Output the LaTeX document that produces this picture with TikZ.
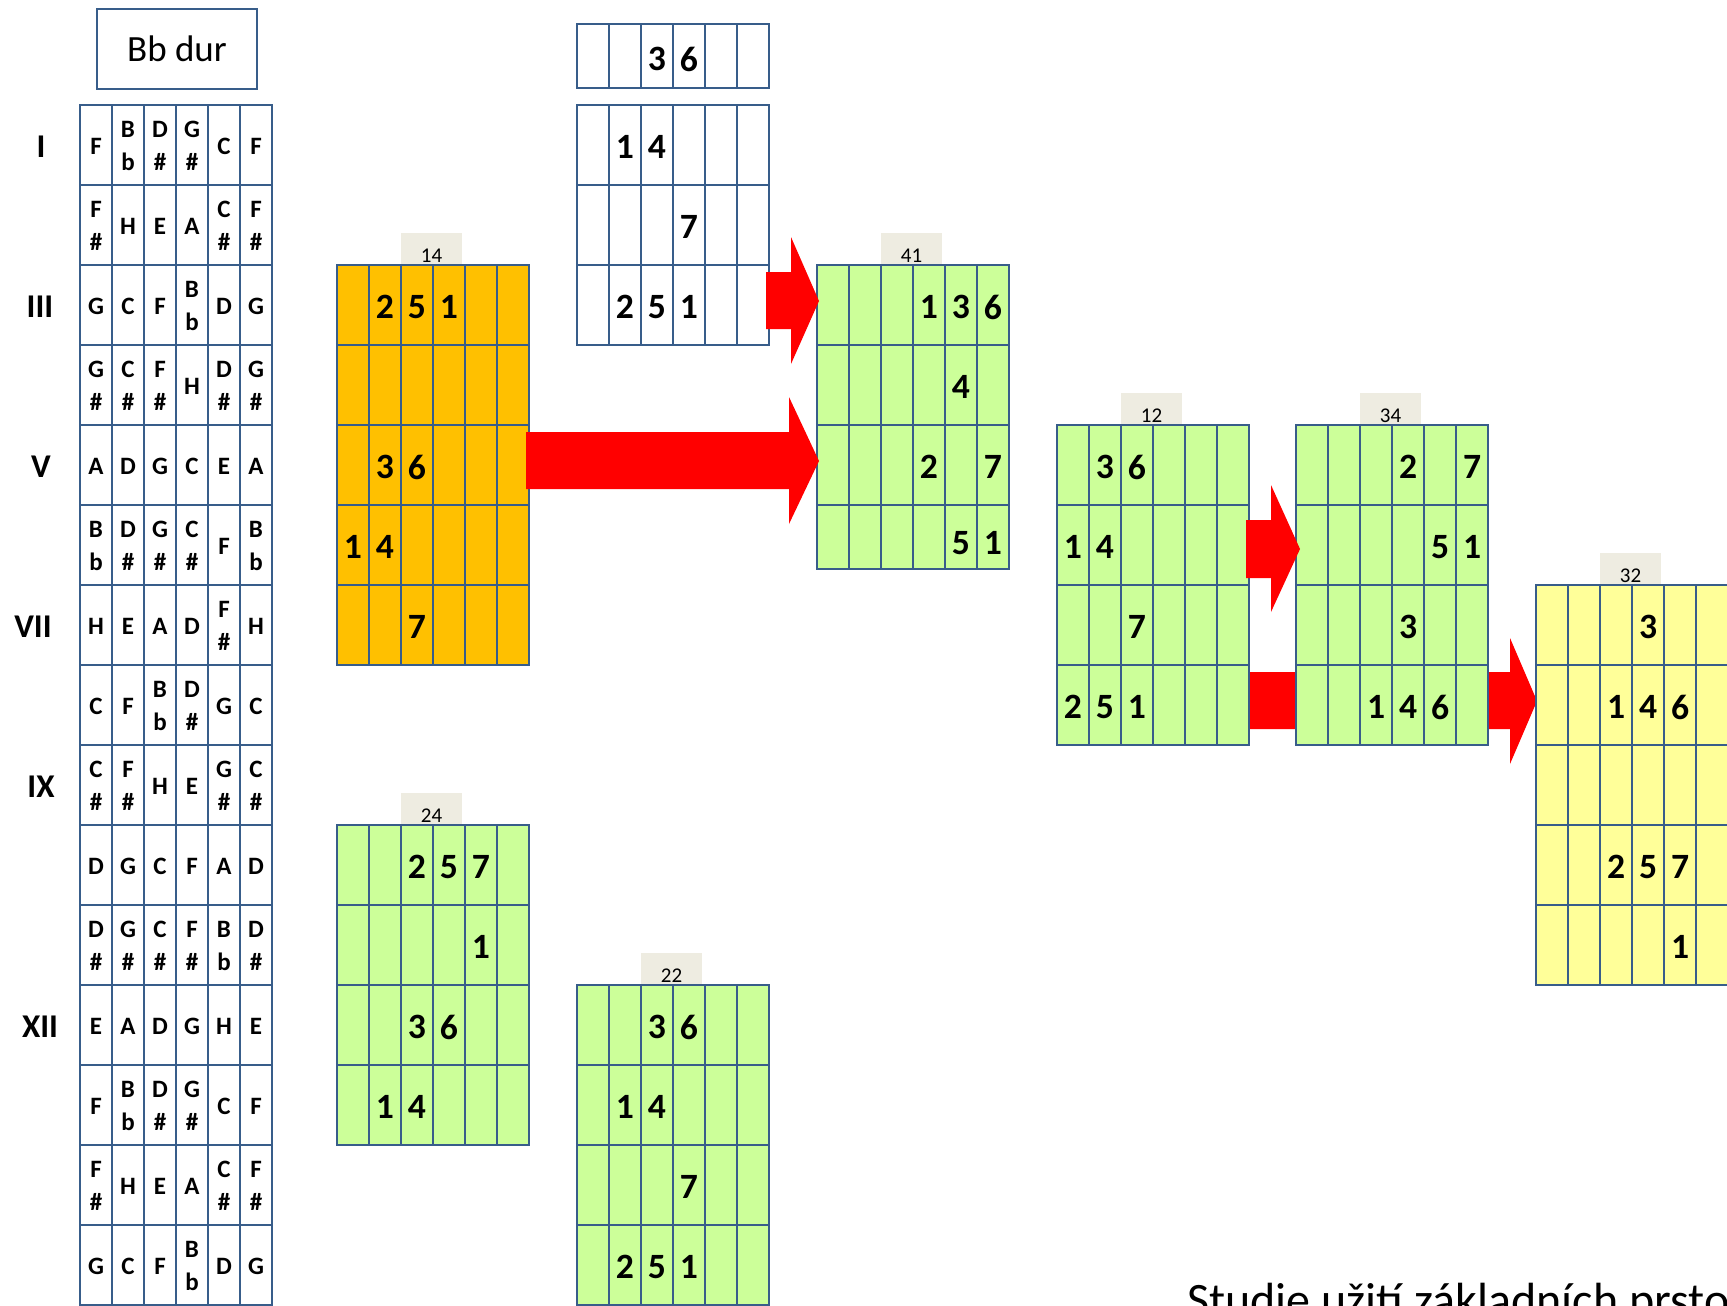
\documentclass[tikz,border=0pt]{standalone}
\usepackage{fontspec}
\setmainfont{Carlito}
\definecolor{gline}{RGB}{56,93,138}
\definecolor{gorange}{RGB}{255,192,0}
\definecolor{ggreen}{RGB}{204,255,153}
\definecolor{gyellow}{RGB}{255,255,153}
\definecolor{gtab}{RGB}{238,236,225}
\definecolor{gred}{RGB}{255,0,0}
% grid at local origin: #1 bottom, #2 list of row lines, #3 fill
\newcommand\fgrid[3]{%
  \fill[#3] (0,0) rectangle (192,#1);
  \foreach \i in {0,...,6} \draw[gridline] (32*\i,0) -- (32*\i,#1);
  \foreach \yy in {#2} \draw[gridline] (0,\yy) -- (192,\yy);
}
\newcommand\tabl[1]{%
  \fill[gtab] (64,-32) rectangle (125,0);
  \node[tablabel] (\gn-tab) at (94.5,-3) {#1};
}
\newcommand\cn[3]{\node[num] (\gn-#1-#2) at (32*#1-16,80*#2-40) {#3};}
\newcommand\frow[7]{%
  \node[note] (fb-#1-1) at (16,80*#1-40) {#2};
  \node[note] (fb-#1-2) at (48,80*#1-40) {#3};
  \node[note] (fb-#1-3) at (80,80*#1-40) {#4};
  \node[note] (fb-#1-4) at (112,80*#1-40) {#5};
  \node[note] (fb-#1-5) at (144,80*#1-40) {#6};
  \node[note] (fb-#1-6) at (176,80*#1-40) {#7};
}
\begin{document}
\begin{tikzpicture}[x=0.5pt,y=-0.5pt,
  gridline/.style={draw=gline,line width=1.45pt,line cap=rect},
  num/.style={font=\fontsize{17.8}{20}\selectfont\bfseries,inner sep=0pt,yshift=-1pt},
  note/.style={font=\fontsize{12.5}{16.5}\selectfont\bfseries,align=center,inner sep=0pt,yshift=-0.6pt},
  roman/.style={font=\fontsize{16.6}{20}\selectfont\bfseries,inner sep=0pt,yshift=-0.8pt},
  tablabel/.style={font=\fontsize{10.5}{12}\selectfont,anchor=base,inner sep=0pt},
  redarrow/.style={fill=gred,draw=none}]
\useasboundingbox (0,0) rectangle (1727,1305);
\clip (0,0) rectangle (1727,1305);

% title box
\node[draw=gline,line width=1.45pt,minimum width=80pt,minimum height=40pt,
  inner sep=0pt,font=\fontsize{18.5}{22}\selectfont] (title) at (177,49) {Bb dur};

% roman numerals
\node[roman] (rI) at (41,145) {I};
\node[roman] (rIII) at (40,305) {III};
\node[roman] (rV) at (41,465) {V};
\node[roman] (rVII) at (33,625) {VII};
\node[roman] (rIX) at (41,785) {IX};
\node[roman] (rXII) at (40,1025) {XII};

% fretboard
\begin{scope}[shift={(80,105)}]
\fgrid{1200}{0,80,...,1200}{white}
\frow{1}{F}{B\\b}{D\\\#}{G\\\#}{C}{F}
\frow{2}{F\\\#}{H}{E}{A}{C\\\#}{F\\\#}
\frow{3}{G}{C}{F}{B\\b}{D}{G}
\frow{4}{G\\\#}{C\\\#}{F\\\#}{H}{D\\\#}{G\\\#}
\frow{5}{A}{D}{G}{C}{E}{A}
\frow{6}{B\\b}{D\\\#}{G\\\#}{C\\\#}{F}{B\\b}
\frow{7}{H}{E}{A}{D}{F\\\#}{H}
\frow{8}{C}{F}{B\\b}{D\\\#}{G}{C}
\frow{9}{C\\\#}{F\\\#}{H}{E}{G\\\#}{C\\\#}
\frow{10}{D}{G}{C}{F}{A}{D}
\frow{11}{D\\\#}{G\\\#}{C\\\#}{F\\\#}{B\\b}{D\\\#}
\frow{12}{E}{A}{D}{G}{H}{E}
\frow{13}{F}{B\\b}{D\\\#}{G\\\#}{C}{F}
\frow{14}{F\\\#}{H}{E}{A}{C\\\#}{F\\\#}
\frow{15}{G}{C}{F}{B\\b}{D}{G}
\end{scope}

% lower arrow 12 -> 32 (behind grids)
\fill[redarrow] (1249,672) -- (1510,672) -- (1510,638) -- (1537,701)
  -- (1510,764) -- (1510,729) -- (1249,729) -- cycle;

% white top single row
\begin{scope}[shift={(577,24)}]
\def\gn{wa}
\fgrid{64}{0,64}{white}
\node[num] (wa-3) at (80,33) {3};
\node[num] (wa-4) at (112,33) {6};
\end{scope}

% white three rows
\begin{scope}[shift={(577,105)}]
\def\gn{wb}
\fgrid{240}{0,80,160,240}{white}
\cn{2}{1}{1}\cn{3}{1}{4}
\cn{4}{2}{7}
\cn{2}{3}{2}\cn{3}{3}{5}\cn{4}{3}{1}
\end{scope}

% orange 14
\begin{scope}[shift={(337,265)}]
\def\gn{g14}
\tabl{14}
\fgrid{400}{0,80,...,400}{gorange}
\cn{2}{1}{2}\cn{3}{1}{5}\cn{4}{1}{1}
\cn{2}{3}{3}\cn{3}{3}{6}
\cn{1}{4}{1}\cn{2}{4}{4}
\cn{3}{5}{7}
\end{scope}

% green 41
\begin{scope}[shift={(817,265)}]
\def\gn{g41}
\tabl{41}
\fgrid{304}{0,80,160,240,304}{ggreen}
\cn{4}{1}{1}\cn{5}{1}{3}\cn{6}{1}{6}
\cn{5}{2}{4}
\cn{4}{3}{2}\cn{6}{3}{7}
\node[num] (g41-5-4) at (144,276) {5};
\node[num] (g41-6-4) at (176,276) {1};
\end{scope}

% green 12
\begin{scope}[shift={(1057,425)}]
\def\gn{g12}
\tabl{12}
\fgrid{320}{0,80,...,320}{ggreen}
\cn{2}{1}{3}\cn{3}{1}{6}
\cn{1}{2}{1}\cn{2}{2}{4}
\cn{3}{3}{7}
\cn{1}{4}{2}\cn{2}{4}{5}\cn{3}{4}{1}
\end{scope}

% green 34
\begin{scope}[shift={(1296,425)}]
\def\gn{g34}
\tabl{34}
\fgrid{320}{0,80,...,320}{ggreen}
\cn{4}{1}{2}\cn{6}{1}{7}
\cn{5}{2}{5}\cn{6}{2}{1}
\cn{4}{3}{3}
\cn{3}{4}{1}\cn{4}{4}{4}\cn{5}{4}{6}
\end{scope}

% yellow 32
\begin{scope}[shift={(1536,585)}]
\def\gn{g32}
\tabl{32}
\fgrid{400}{0,80,...,400}{gyellow}
\cn{4}{1}{3}
\cn{3}{2}{1}\cn{4}{2}{4}\cn{5}{2}{6}
\cn{3}{4}{2}\cn{4}{4}{5}\cn{5}{4}{7}
\cn{5}{5}{1}
\end{scope}

% green 24
\begin{scope}[shift={(337,825)}]
\def\gn{g24}
\tabl{24}
\fgrid{320}{0,80,...,320}{ggreen}
\cn{3}{1}{2}\cn{4}{1}{5}\cn{5}{1}{7}
\cn{5}{2}{1}
\cn{3}{3}{3}\cn{4}{3}{6}
\cn{2}{4}{1}\cn{3}{4}{4}
\end{scope}

% green 22
\begin{scope}[shift={(577,985)}]
\def\gn{g22}
\tabl{22}
\fgrid{320}{0,80,...,320}{ggreen}
\cn{3}{1}{3}\cn{4}{1}{6}
\cn{2}{2}{1}\cn{3}{2}{4}
\cn{4}{3}{7}
\cn{2}{4}{2}\cn{3}{4}{5}\cn{4}{4}{1}
\end{scope}

% red arrows on top
\fill[redarrow] (766,272) -- (791,272) -- (791,237) -- (819,301)
  -- (791,364) -- (791,329) -- (766,329) -- cycle;
\fill[redarrow] (526,432) -- (789,432) -- (789,397) -- (819,461)
  -- (789,524) -- (789,489) -- (526,489) -- cycle;
\fill[redarrow] (1246,520) -- (1271,520) -- (1271,485) -- (1300,549)
  -- (1271,612) -- (1271,578) -- (1246,578) -- cycle;

% caption (cut by page edge, as in the reference)
\node[anchor=base west,inner sep=0pt,font=\fontsize{24}{28}\selectfont] (caption)
  at (1187,1316) {Studie užití základních prsto};
\end{tikzpicture}
\end{document}
